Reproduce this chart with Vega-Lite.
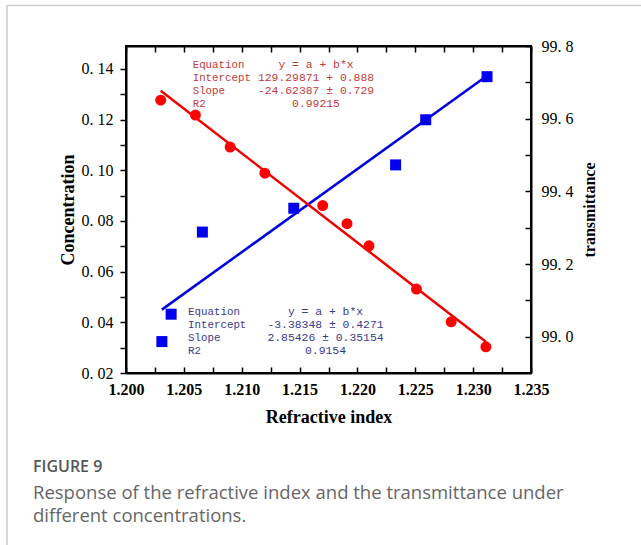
{
  "$schema": "https://vega.github.io/schema/vega-lite/v6.json",
  "autosize": {"type": "none"},
  "width": 405,
  "height": 327,
  "padding": {"left": 126, "top": 46, "right": 110, "bottom": 172},
  "background": "white",
  "config": {
    "view": {"stroke": "black", "strokeWidth": 2},
    "axis": {"grid": false, "domainColor": "black", "domainWidth": 2, "tickColor": "black", "tickWidth": 1.5, "labelColor": "black", "titleColor": "black"}
  },
  "title": {
    "text": "FIGURE 9",
    "subtitle": ["Response of the refractive index and the transmittance under", "different concentrations."],
    "orient": "bottom",
    "anchor": "start",
    "frame": "group",
    "dx": -93,
    "offset": -88,
    "font": "Open Sans",
    "fontSize": 16,
    "fontWeight": 600,
    "color": "#555555",
    "subtitleFont": "Open Sans",
    "subtitleFontSize": 18.5,
    "subtitleColor": "#666666",
    "subtitlePadding": 9,
    "subtitleLineHeight": 23
  },
  "datasets": {
    "blue": [
      {"ri": 1.2031, "conc": 0.0324},
      {"ri": 1.2039, "conc": 0.0432},
      {"ri": 1.2066, "conc": 0.0756},
      {"ri": 1.2145, "conc": 0.0850},
      {"ri": 1.2233, "conc": 0.1021},
      {"ri": 1.2259, "conc": 0.1199},
      {"ri": 1.2312, "conc": 0.1369}
    ],
    "blueFit": [
      {"ri": 1.2031, "conc": 0.0450},
      {"ri": 1.2312, "conc": 0.1373}
    ],
    "red": [
      {"ri": 1.2030, "t": 99.651},
      {"ri": 1.2060, "t": 99.610},
      {"ri": 1.2090, "t": 99.522},
      {"ri": 1.2120, "t": 99.450},
      {"ri": 1.2170, "t": 99.361},
      {"ri": 1.2191, "t": 99.311},
      {"ri": 1.2210, "t": 99.250},
      {"ri": 1.2251, "t": 99.131},
      {"ri": 1.2281, "t": 99.041},
      {"ri": 1.2311, "t": 98.972}
    ],
    "redFit": [
      {"ri": 1.2030, "t": 99.677},
      {"ri": 1.2311, "t": 98.986}
    ],
    "border": [
      {"xa": 1.18972, "xb": 1.24451, "ya": 0.16495, "yb": 0.16495},
      {"xa": 1.18972, "xb": 1.18972, "ya": 0.16495, "yb": -0.0482}
    ],
    "notes": [
      {"ri": 1.20576, "conc": 0.1417, "txt": "Equation", "grp": "red", "kind": "label"},
      {"ri": 1.20576, "conc": 0.1364, "txt": "Intercept", "grp": "red", "kind": "label"},
      {"ri": 1.20576, "conc": 0.1312, "txt": "Slope", "grp": "red", "kind": "label"},
      {"ri": 1.20576, "conc": 0.1261, "txt": "R2", "grp": "red", "kind": "label"},
      {"ri": 1.21642, "conc": 0.1417, "txt": "y = a + b*x", "grp": "red", "kind": "value"},
      {"ri": 1.21642, "conc": 0.1364, "txt": "129.29871 + 0.888", "grp": "red", "kind": "value"},
      {"ri": 1.21642, "conc": 0.1312, "txt": "-24.62387 ± 0.729", "grp": "red", "kind": "value"},
      {"ri": 1.21642, "conc": 0.1261, "txt": "0.99215", "grp": "red", "kind": "value"},
      {"ri": 1.20536, "conc": 0.04388, "txt": "Equation", "grp": "blue", "kind": "label"},
      {"ri": 1.20536, "conc": 0.03913, "txt": "Intercept", "grp": "blue", "kind": "label"},
      {"ri": 1.20536, "conc": 0.03374, "txt": "Slope", "grp": "blue", "kind": "label"},
      {"ri": 1.20536, "conc": 0.02871, "txt": "R2", "grp": "blue", "kind": "label"},
      {"ri": 1.21724, "conc": 0.04388, "txt": "y = a + b*x", "grp": "blue", "kind": "value"},
      {"ri": 1.21724, "conc": 0.03913, "txt": "-3.38348 ± 0.4271", "grp": "blue", "kind": "value"},
      {"ri": 1.21724, "conc": 0.03374, "txt": "2.85426 ± 0.35154", "grp": "blue", "kind": "value"},
      {"ri": 1.21724, "conc": 0.02871, "txt": "0.9154", "grp": "blue", "kind": "value"}
    ]
  },
  "layer": [
    {
      "data": {"name": "border"},
      "mark": {"type": "rule", "color": "#cccccc", "strokeWidth": 1.5},
      "encoding": {
        "x": {"field": "xa", "type": "quantitative", "scale": {"domain": [1.2, 1.235], "nice": false, "zero": false}, "axis": null},
        "x2": {"field": "xb"},
        "y": {"field": "ya", "type": "quantitative", "scale": {"domain": [0.02, 0.149], "nice": false, "zero": false}, "axis": null},
        "y2": {"field": "yb"}
      }
    },
    {
      "data": {"name": "blueFit"},
      "mark": {"type": "line", "color": "#0000dd", "strokeWidth": 2.5},
      "encoding": {
        "x": {"field": "ri", "type": "quantitative", "scale": {"domain": [1.2, 1.235], "nice": false, "zero": false}, "axis": null},
        "y": {"field": "conc", "type": "quantitative", "scale": {"domain": [0.02, 0.149], "nice": false, "zero": false}, "axis": null}
      }
    },
    {
      "data": {"name": "redFit"},
      "mark": {"type": "line", "color": "#ee0000", "strokeWidth": 2.5},
      "encoding": {
        "x": {"field": "ri", "type": "quantitative", "scale": {"domain": [1.2, 1.235], "nice": false, "zero": false}, "axis": null},
        "y": {"field": "t", "type": "quantitative", "scale": {"domain": [98.9, 99.8], "nice": false, "zero": false}, "axis": null}
      }
    },
    {
      "data": {"name": "blue"},
      "mark": {"type": "square", "filled": true, "color": "#0000ee", "size": 121, "opacity": 1},
      "encoding": {
        "x": {
          "field": "ri", "type": "quantitative",
          "scale": {"domain": [1.2, 1.235], "nice": false, "zero": false},
          "axis": {
            "orient": "bottom",
            "values": [1.2, 1.2025, 1.205, 1.2075, 1.21, 1.2125, 1.215, 1.2175, 1.22, 1.2225, 1.225, 1.2275, 1.23, 1.2325, 1.235],
            "format": ".3f",
            "labelExpr": "round(datum.value*1000) % 5 == 0 ? datum.label : ''",
            "tickSize": -6,
            "labelPadding": 14,
            "labelFont": "Liberation Serif",
            "labelFontSize": 16,
            "labelFontWeight": "bold",
            "labelFlush": false,
            "labelOverlap": false,
            "title": "Refractive index",
            "titleFont": "Liberation Serif",
            "titleFontSize": 18,
            "titleFontWeight": "bold",
            "titlePadding": 11
          }
        },
        "y": {
          "field": "conc", "type": "quantitative",
          "scale": {"domain": [0.02, 0.149], "nice": false, "zero": false},
          "axis": {
            "orient": "left",
            "values": [0.02, 0.03, 0.04, 0.05, 0.06, 0.07, 0.08, 0.09, 0.1, 0.11, 0.12, 0.13, 0.14],
            "format": ".2f",
            "labelExpr": "round(datum.value*100) % 2 == 0 ? replace(datum.label, '.', '. ') : ''",
            "tickSize": 6,
            "labelPadding": 7,
            "labelFont": "Liberation Serif",
            "labelFontSize": 16,
            "labelOverlap": false,
            "labelFlush": false,
            "title": "Concentration",
            "titleFont": "Liberation Serif",
            "titleFontSize": 18,
            "titleFontWeight": "bold",
            "titlePadding": 4
          }
        }
      }
    },
    {
      "data": {"name": "red"},
      "mark": {"type": "circle", "color": "#ff0000", "size": 120, "opacity": 1},
      "encoding": {
        "x": {
          "field": "ri", "type": "quantitative",
          "scale": {"domain": [1.2, 1.235], "nice": false, "zero": false},
          "axis": {
            "orient": "top",
            "values": [1.2, 1.2025, 1.205, 1.2075, 1.21, 1.2125, 1.215, 1.2175, 1.22, 1.2225, 1.225, 1.2275, 1.23, 1.2325, 1.235],
            "labels": false,
            "tickSize": -6,
            "title": null
          }
        },
        "y": {
          "field": "t", "type": "quantitative",
          "scale": {"domain": [98.9, 99.8], "nice": false, "zero": false},
          "axis": {
            "orient": "right",
            "values": [99.0, 99.1, 99.2, 99.3, 99.4, 99.5, 99.6, 99.7, 99.8],
            "format": ".1f",
            "labelExpr": "round(datum.value*10) % 2 == 0 ? replace(datum.label, '.', '. ') : ''",
            "tickSize": -6,
            "labelPadding": 16,
            "labelFont": "Liberation Serif",
            "labelFontSize": 16,
            "labelOverlap": false,
            "labelFlush": false,
            "title": "transmittance",
            "titleAngle": 270,
            "titleFont": "Liberation Serif",
            "titleFontSize": 16,
            "titleFontWeight": "bold",
            "titlePadding": 24
          }
        }
      }
    },
    {
      "data": {"name": "notes"},
      "mark": {"type": "text", "align": "left", "baseline": "middle", "font": "Liberation Mono", "fontSize": 10.8},
      "transform": [{"filter": "datum.kind == 'label'"}],
      "encoding": {
        "x": {"field": "ri", "type": "quantitative", "scale": {"domain": [1.2, 1.235], "nice": false, "zero": false}, "axis": null},
        "y": {"field": "conc", "type": "quantitative", "scale": {"domain": [0.02, 0.149], "nice": false, "zero": false}, "axis": null},
        "text": {"field": "txt"},
        "color": {"field": "grp", "type": "nominal", "scale": {"domain": ["red", "blue"], "range": ["#c23b3b", "#3a3a8c"]}, "legend": null}
      }
    },
    {
      "data": {"name": "notes"},
      "mark": {"type": "text", "align": "center", "baseline": "middle", "font": "Liberation Mono", "fontSize": 11.4},
      "transform": [{"filter": "datum.kind == 'value'"}],
      "encoding": {
        "x": {"field": "ri", "type": "quantitative", "scale": {"domain": [1.2, 1.235], "nice": false, "zero": false}, "axis": null},
        "y": {"field": "conc", "type": "quantitative", "scale": {"domain": [0.02, 0.149], "nice": false, "zero": false}, "axis": null},
        "text": {"field": "txt"},
        "color": {"field": "grp", "type": "nominal", "scale": {"domain": ["red", "blue"], "range": ["#c23b3b", "#3a3a8c"]}, "legend": null}
      }
    }
  ],
  "resolve": {"scale": {"x": "independent", "y": "independent", "color": "shared"}}
}
